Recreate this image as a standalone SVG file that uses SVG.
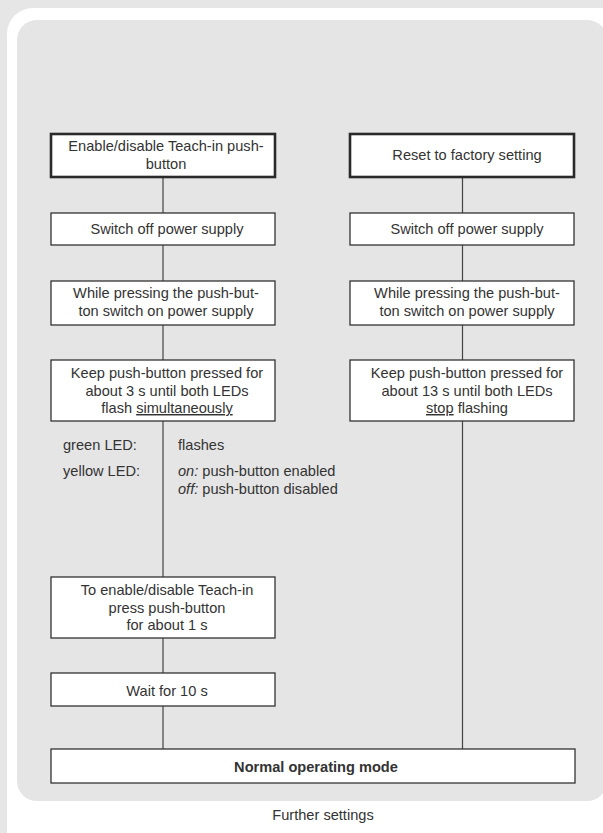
<svg xmlns="http://www.w3.org/2000/svg" width="603" height="833" viewBox="0 0 603 833">
<style>
text{font-family:"Liberation Sans","Open Sans",sans-serif;font-size:14.6px;fill:#333}
.c{text-anchor:middle}
.box{fill:#fff;stroke:#333;stroke-width:1.3}
.hbox{fill:#fff;stroke:#2a2a2a;stroke-width:2.6}
.ln{stroke:#444;stroke-width:1.2;fill:none}
.b{font-weight:bold}
</style>
<rect x="0" y="0" width="603" height="833" fill="#e6e6e6"/>
<rect x="7" y="8" width="620" height="860" rx="26" fill="#fff"/>
<rect x="17" y="20" width="590" height="781" rx="20" fill="#e5e5e5"/>
<g id="connectors">
<line class="ln" x1="163" y1="177" x2="163" y2="213"/>
<line class="ln" x1="163" y1="245" x2="163" y2="281"/>
<line class="ln" x1="163" y1="325" x2="163" y2="360"/>
<line class="ln" x1="163" y1="421" x2="163" y2="577"/>
<line class="ln" x1="163" y1="638" x2="163" y2="673"/>
<line class="ln" x1="163" y1="706" x2="163" y2="749"/>
<line class="ln" x1="462.5" y1="177" x2="462.5" y2="213"/>
<line class="ln" x1="462.5" y1="245" x2="462.5" y2="281"/>
<line class="ln" x1="462.5" y1="325" x2="462.5" y2="360"/>
<line class="ln" x1="462.5" y1="421" x2="462.5" y2="749"/>
</g>
<g id="enable">
<rect class="hbox" x="51" y="134" width="224" height="43"/>
<text class="c" x="166" y="151">Enable/disable Teach-in push-</text>
<text class="c" x="166" y="169">button</text>
</g>
<g id="switchL">
<rect class="box" x="51" y="213" width="224" height="32"/>
<text class="c" x="167" y="234">Switch off power supply</text>
</g>
<g id="whileL">
<rect class="box" x="51" y="281" width="224" height="44"/>
<text class="c" x="166" y="298">While pressing the push-but-</text>
<text class="c" x="166" y="316">ton switch on power supply</text>
</g>
<g id="keepL">
<rect class="box" x="51" y="360" width="224" height="61"/>
<text class="c" x="167" y="378">Keep push-button pressed for</text>
<text class="c" x="167" y="395.5">about 3 s until both LEDs</text>
<text class="c" x="167" y="413">flash <tspan text-decoration="underline">simultaneously</tspan></text>
</g>
<g id="leds">
<text x="63" y="450">green LED:</text>
<text x="178" y="450">flashes</text>
<text x="63" y="476">yellow LED:</text>
<text x="178" y="476"><tspan font-style="italic">on:</tspan> push-button enabled</text>
<text x="178" y="493.5"><tspan font-style="italic">off:</tspan> push-button disabled</text>
</g>
<g id="toenable">
<rect class="box" x="51" y="577" width="224" height="61"/>
<text class="c" x="167" y="595">To enable/disable Teach-in</text>
<text class="c" x="167" y="612.5">press push-button</text>
<text class="c" x="167" y="630">for about 1 s</text>
</g>
<g id="wait">
<rect class="box" x="51" y="673" width="224" height="33"/>
<text class="c" x="167" y="696">Wait for 10 s</text>
</g>
<g id="reset">
<rect class="hbox" x="350" y="134" width="224" height="43"/>
<text class="c" x="467" y="160">Reset to factory setting</text>
</g>
<g id="switchR">
<rect class="box" x="350" y="213" width="224" height="32"/>
<text class="c" x="467" y="234">Switch off power supply</text>
</g>
<g id="whileR">
<rect class="box" x="350" y="281" width="224" height="44"/>
<text class="c" x="467" y="298">While pressing the push-but-</text>
<text class="c" x="467" y="316">ton switch on power supply</text>
</g>
<g id="keepR">
<rect class="box" x="350" y="360" width="224" height="61"/>
<text class="c" x="467" y="378">Keep push-button pressed for</text>
<text class="c" x="467" y="395.5">about 13 s until both LEDs</text>
<text class="c" x="467" y="413"><tspan text-decoration="underline">stop</tspan> flashing</text>
</g>
<g id="normal">
<rect class="box" x="51" y="749" width="524" height="34"/>
<text class="c b" x="316" y="772">Normal operating mode</text>
</g>
<text class="c" x="323" y="820">Further settings</text>
</svg>
